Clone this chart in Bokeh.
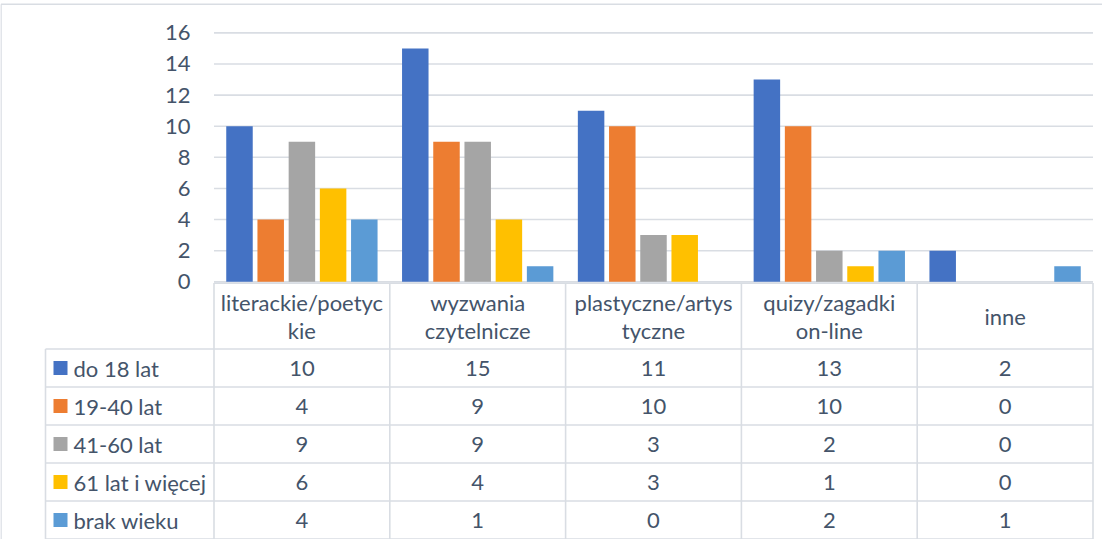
from bokeh.plotting import figure
from bokeh.models import Range1d
from bokeh.core.properties import value
from bokeh.embed import file_html
from bokeh.resources import INLINE

# ---- data ----
categories = ["literackie/poetyckie", "wyzwania czytelnicze", "plastyczne/artystyczne",
              "quizy/zagadki on-line", "inne"]
header_line1 = ["literackie/poetyc", "wyzwania", "plastyczne/artys", "quizy/zagadki", "inne"]
header_line2 = ["kie", "czytelnicze", "tyczne", "on-line", ""]
series = ["do 18 lat", "19-40 lat", "41-60 lat", "61 lat i więcej", "brak wieku"]
do_18 = [10, 15, 11, 13, 2]
lat_19_40 = [4, 9, 10, 10, 0]
lat_41_60 = [9, 9, 3, 2, 0]
lat_61_plus = [6, 4, 3, 1, 0]
brak_wieku = [4, 1, 0, 2, 1]
values = [do_18, lat_19_40, lat_41_60, lat_61_plus, brak_wieku]
colors = ["#4472C4", "#ED7D31", "#A5A5A5", "#FFC000", "#5B9BD5"]
y_ticks = [0, 2, 4, 6, 8, 10, 12, 14, 16]

# ---- layout (page pixels -> data units) ----
X0, CW = 221.5, 175.8      # left edge of category area, width of one category
Y0, VH = 289.3, 15.56      # baseline, pixels per unit


def px2x(px):
    return (px - X0) / CW


def py2y(py):
    return (Y0 - py) / VH


W, H = 1102, 539
p = figure(width=W, height=H, output_backend="svg", toolbar_location=None,
           x_range=Range1d(px2x(8), px2x(8 + W)), y_range=Range1d(py2y(8 + H), py2y(8)),
           x_axis_location=None, y_axis_location=None,
           min_border=0, min_border_left=0, min_border_right=0,
           min_border_top=0, min_border_bottom=0)
p.outline_line_color = None
p.xgrid.visible = False
p.ygrid.visible = False
p.background_fill_color = "white"
p.border_fill_color = "white"

FONT = value("Lato")
FS = "22px"
TXT = "#44546A"
LINE = "#D9DDE3"
n = len(categories)

# outer chart border (left and top edges visible)
p.segment(x0=[px2x(8.5), px2x(8.5)], y0=[py2y(11.7), py2y(11.7)],
          x1=[px2x(8.5), px2x(8 + W)], y1=[py2y(8 + H), py2y(11.7)],
          line_color=LINE, line_width=1.5)

# gridlines
p.segment(x0=[0] * len(y_ticks), x1=[n] * len(y_ticks), y0=y_ticks, y1=y_ticks,
          line_color=LINE, line_width=1.6)

# y tick labels
p.text(x=[px2x(198)] * len(y_ticks), y=y_ticks, text=[str(t) for t in y_ticks],
       text_align="right", text_baseline="middle", text_font=FONT,
       text_font_size=FS, text_color=TXT)

# bars
slot, bw = 0.1775, 0.1507
for i, (vals, col) in enumerate(zip(values, colors)):
    xs = [k + 0.5 + (i - 2) * slot for k in range(n)]
    p.vbar(x=xs, top=vals, bottom=0, width=bw, fill_color=col, line_color=None)

# ---- data table ----
head_top, head_bot, row_h = 290.6, 356.5, 38.0
row_edges = [head_bot + r * row_h for r in range(len(series) + 1)]
row_mid = [head_bot + (r + 0.5) * row_h for r in range(len(series))]
tbl_left = 53.0

# horizontal lines
p.segment(x0=[0], x1=[n], y0=[py2y(head_top)], y1=[py2y(head_top)],
          line_color=LINE, line_width=1.6)
p.segment(x0=[px2x(tbl_left)] * len(row_edges), x1=[n] * len(row_edges),
          y0=[py2y(e) for e in row_edges], y1=[py2y(e) for e in row_edges],
          line_color=LINE, line_width=1.6)
# vertical lines
p.segment(x0=list(range(n + 1)), x1=list(range(n + 1)),
          y0=[py2y(head_top)] * (n + 1), y1=[py2y(row_edges[-1])] * (n + 1),
          line_color=LINE, line_width=1.6)
p.segment(x0=[px2x(tbl_left)], x1=[px2x(tbl_left)],
          y0=[py2y(head_bot)], y1=[py2y(row_edges[-1])],
          line_color=LINE, line_width=1.6)

# header texts
cx = [k + 0.5 for k in range(n)]
two = [k for k in range(n) if header_line2[k]]
one = [k for k in range(n) if not header_line2[k]]
p.text(x=[cx[k] for k in two], y=[py2y(309.5)] * len(two), text=[header_line1[k] for k in two],
       text_align="center", text_baseline="middle", text_font=FONT, text_font_size=FS, text_color=TXT)
p.text(x=[cx[k] for k in two], y=[py2y(337.5)] * len(two), text=[header_line2[k] for k in two],
       text_align="center", text_baseline="middle", text_font=FONT, text_font_size=FS, text_color=TXT)
p.text(x=[cx[k] for k in one], y=[py2y((head_top + head_bot) / 2)] * len(one),
       text=[header_line1[k] for k in one],
       text_align="center", text_baseline="middle", text_font=FONT, text_font_size=FS, text_color=TXT)

# legend keys + series names
p.scatter(x=[px2x(68)] * len(series), y=[py2y(m) for m in row_mid], marker="square",
          size=14, fill_color=colors, line_color=None)
p.text(x=[px2x(81)] * len(series), y=[py2y(m) for m in row_mid], text=series,
       text_align="left", text_baseline="middle", text_font=FONT, text_font_size=FS, text_color=TXT)

# values
for r, vals in enumerate(values):
    p.text(x=cx, y=[py2y(row_mid[r])] * n, text=[str(v) for v in vals],
           text_align="center", text_baseline="middle", text_font=FONT,
           text_font_size=FS, text_color=TXT)

open("out.html", "w").write(file_html(p, INLINE))
